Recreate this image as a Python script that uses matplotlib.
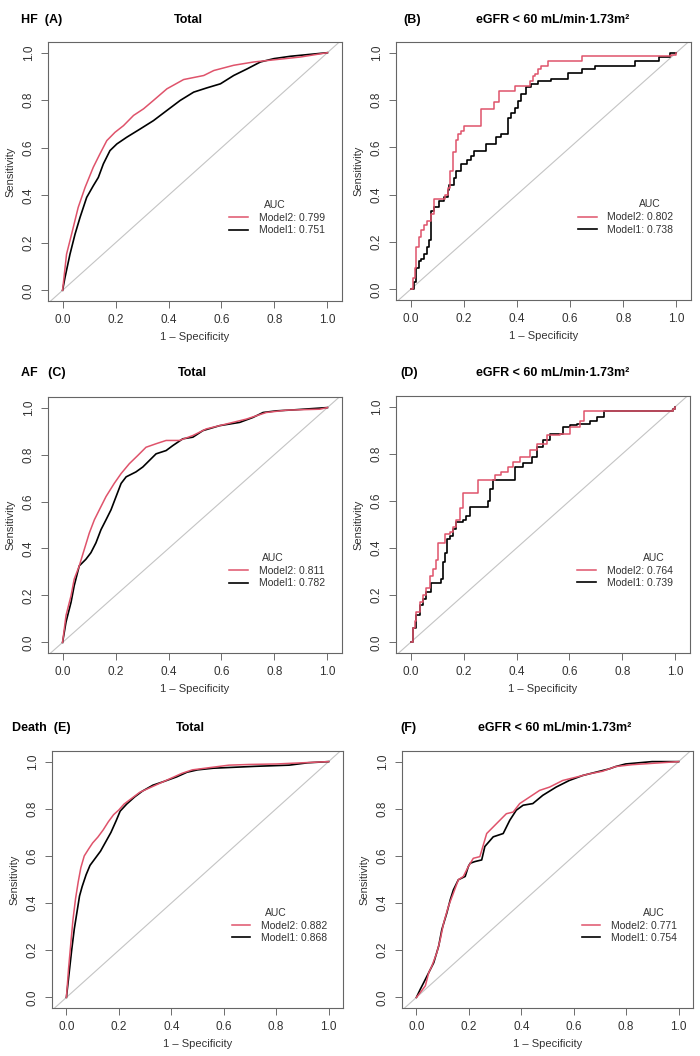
import matplotlib
matplotlib.use("Agg")
import matplotlib.pyplot as plt

plt.rcParams["font.family"] = ["Liberation Sans", "DejaVu Sans"]

RED = "#DF536B"

# ---- ROC curves (1 - specificity, sensitivity) ----
# (A) HF, total
hf_total_m2_x = [0, 0.015, 0.034, 0.059, 0.085, 0.116, 0.141, 0.167, 0.198, 0.23, 0.268, 0.306, 0.343,
                 0.394, 0.457, 0.533, 0.571, 0.646, 0.722, 0.798, 0.899, 1.0]
hf_total_m2_y = [0, 0.152, 0.236, 0.349, 0.433, 0.518, 0.574, 0.63, 0.665, 0.693, 0.736, 0.764, 0.799,
                 0.848, 0.887, 0.904, 0.925, 0.947, 0.961, 0.97, 0.982, 1.0]
hf_total_m1_x = [0, 0.009, 0.028, 0.047, 0.066, 0.091, 0.116, 0.135, 0.154, 0.179, 0.205, 0.242, 0.293,
                 0.343, 0.394, 0.444, 0.495, 0.545, 0.596, 0.646, 0.697, 0.747, 0.798, 0.861, 1.0]
hf_total_m1_y = [0, 0.053, 0.152, 0.236, 0.307, 0.391, 0.44, 0.475, 0.532, 0.588, 0.616, 0.644, 0.679,
                 0.714, 0.757, 0.799, 0.834, 0.852, 0.869, 0.904, 0.932, 0.961, 0.975, 0.985, 1.0]

# (B) HF, eGFR < 60 (step curves)
hf_egfr_m2_x = [0, 0.01, 0.015, 0.02, 0.03, 0.04, 0.05, 0.063, 0.076, 0.088, 0.13, 0.14, 0.15, 0.16, 0.17,
                0.177, 0.19, 0.202, 0.214, 0.265, 0.315, 0.334, 0.391, 0.448, 0.46, 0.467, 0.479, 0.492,
                0.517, 0.643, 0.98, 1.0]
hf_egfr_m2_y = [0, 0.05, 0.09, 0.18, 0.22, 0.25, 0.27, 0.29, 0.32, 0.38, 0.40, 0.43, 0.50, 0.58, 0.63,
                0.656, 0.67, 0.69, 0.69, 0.76, 0.79, 0.84, 0.86, 0.88, 0.90, 0.91, 0.93, 0.944,
                0.966, 0.986, 0.99, 1.0]
hf_egfr_m1_x = [0, 0.013, 0.019, 0.032, 0.038, 0.05, 0.063, 0.069, 0.076, 0.088, 0.107, 0.126, 0.139,
                0.145, 0.164, 0.17, 0.189, 0.214, 0.227, 0.24, 0.284, 0.322, 0.341, 0.366, 0.378, 0.391,
                0.404, 0.416, 0.435, 0.454, 0.479, 0.53, 0.593, 0.643, 0.694, 0.845, 0.933, 0.977, 1.0]
hf_egfr_m1_y = [0, 0.03, 0.09, 0.12, 0.13, 0.15, 0.18, 0.21, 0.33, 0.35, 0.375, 0.39, 0.42,
                0.44, 0.47, 0.50, 0.53, 0.545, 0.565, 0.585, 0.614, 0.642, 0.656, 0.726, 0.747, 0.768,
                0.796, 0.824, 0.853, 0.866, 0.881, 0.888, 0.912, 0.93, 0.944, 0.966, 0.98, 1.0, 1.0]

# (C) AF, total
af_total_m2_x = [0, 0.013, 0.032, 0.044, 0.063, 0.082, 0.101, 0.12, 0.139, 0.164, 0.195, 0.221, 0.252,
                 0.284, 0.315, 0.353, 0.391, 0.441, 0.492, 0.542, 0.618, 0.694, 0.769, 0.845, 0.971, 1.0]
af_total_m2_y = [0, 0.115, 0.199, 0.27, 0.326, 0.396, 0.466, 0.522, 0.565, 0.621, 0.677, 0.719, 0.761,
                 0.796, 0.831, 0.846, 0.86, 0.86, 0.881, 0.909, 0.93, 0.951, 0.979, 0.989, 0.993, 1.0]
af_total_m1_x = [0, 0.013, 0.032, 0.044, 0.063, 0.088, 0.107, 0.126, 0.145, 0.164, 0.183, 0.202, 0.221,
                 0.24, 0.277, 0.303, 0.328, 0.353, 0.391, 0.416, 0.454, 0.492, 0.53, 0.593, 0.669, 0.719,
                 0.757, 0.807, 0.87, 1.0]
af_total_m1_y = [0, 0.087, 0.171, 0.242, 0.326, 0.354, 0.382, 0.424, 0.48, 0.522, 0.565, 0.621, 0.677,
                 0.705, 0.726, 0.747, 0.775, 0.803, 0.817, 0.838, 0.867, 0.874, 0.902, 0.923, 0.937, 0.958,
                 0.979, 0.986, 0.99, 1.0]

# (D) AF, eGFR < 60 (step curves)
af_egfr_m2_x = [0, 0.009, 0.015, 0.021, 0.034, 0.047, 0.059, 0.072, 0.085, 0.097, 0.104, 0.13, 0.148,
                0.16, 0.173, 0.186, 0.198, 0.255, 0.318, 0.343, 0.369, 0.388, 0.413, 0.451, 0.476, 0.514,
                0.564, 0.602, 0.64, 0.653, 0.99, 1.0]
af_egfr_m2_y = [0, 0.06, 0.09, 0.13, 0.17, 0.20, 0.23, 0.28, 0.31, 0.35, 0.42, 0.46, 0.47,
                0.49, 0.52, 0.57, 0.633, 0.689, 0.71, 0.724, 0.745, 0.766, 0.787, 0.815, 0.843, 0.878,
                0.885, 0.913, 0.94, 0.98, 0.99, 1.0]
af_egfr_m1_x = [0, 0.009, 0.021, 0.034, 0.047, 0.059, 0.078, 0.116, 0.122, 0.129, 0.138, 0.148, 0.16,
                0.173, 0.198, 0.211, 0.223, 0.293, 0.3, 0.312, 0.394, 0.426, 0.457, 0.476, 0.501, 0.527,
                0.577, 0.602, 0.628, 0.678, 0.703, 0.729, 0.99, 1.0]
af_egfr_m1_y = [0, 0.06, 0.115, 0.157, 0.185, 0.213, 0.25, 0.27, 0.34, 0.38, 0.44, 0.45, 0.48,
                0.51, 0.52, 0.535, 0.575, 0.60, 0.65, 0.69, 0.745, 0.76, 0.787, 0.829, 0.857, 0.885,
                0.913, 0.92, 0.927, 0.941, 0.955, 0.98, 0.99, 1.0]

# (E) Death, total
death_total_m2_x = [0, 0.008, 0.016, 0.025, 0.035, 0.045, 0.055, 0.068, 0.085, 0.1, 0.12, 0.14, 0.16, 0.18,
                    0.2, 0.22, 0.25, 0.28, 0.32, 0.36, 0.4, 0.44, 0.48, 0.55, 0.62, 0.7, 0.8, 0.9, 1.0]
death_total_m2_y = [0, 0.12, 0.22, 0.33, 0.42, 0.49, 0.55, 0.6, 0.63, 0.655, 0.68, 0.71, 0.745, 0.775,
                    0.795, 0.82, 0.845, 0.87, 0.89, 0.91, 0.93, 0.95, 0.965, 0.975, 0.985, 0.988, 0.99,
                    0.995, 1.0]
death_total_m1_x = [0, 0.01, 0.02, 0.03, 0.04, 0.05, 0.06, 0.075, 0.09, 0.11, 0.13, 0.15, 0.17, 0.19,
                    0.205, 0.23, 0.26, 0.29, 0.33, 0.37, 0.42, 0.46, 0.5, 0.56, 0.62, 0.72, 0.85, 0.92, 1.0]
death_total_m1_y = [0, 0.1, 0.2, 0.29, 0.36, 0.43, 0.47, 0.52, 0.56, 0.59, 0.62, 0.66, 0.7, 0.75,
                    0.79, 0.82, 0.85, 0.875, 0.9, 0.915, 0.935, 0.955, 0.965, 0.972, 0.975, 0.98, 0.985,
                    0.995, 1.0]

# (F) Death, eGFR < 60
death_egfr_m2_x = [0, 0.015, 0.034, 0.047, 0.059, 0.078, 0.091, 0.104, 0.122, 0.141, 0.16, 0.179, 0.198,
                   0.217, 0.242, 0.268, 0.293, 0.318, 0.343, 0.369, 0.394, 0.432, 0.47, 0.508, 0.558,
                   0.609, 0.659, 0.71, 0.76, 0.823, 1.0]
death_egfr_m2_y = [0, 0.021, 0.049, 0.105, 0.133, 0.19, 0.246, 0.316, 0.386, 0.442, 0.499, 0.513, 0.555,
                   0.59, 0.597, 0.695, 0.723, 0.751, 0.779, 0.786, 0.822, 0.85, 0.878, 0.892, 0.92,
                   0.934, 0.948, 0.959, 0.979, 0.987, 1.0]
death_egfr_m1_x = [0, 0.015, 0.028, 0.047, 0.066, 0.085, 0.097, 0.116, 0.129, 0.141, 0.16, 0.186, 0.198,
                   0.205, 0.223, 0.249, 0.261, 0.293, 0.331, 0.356, 0.381, 0.407, 0.444, 0.482, 0.533,
                   0.583, 0.634, 0.684, 0.735, 0.76, 0.798, 0.899, 1.0]
death_egfr_m1_y = [0, 0.035, 0.063, 0.105, 0.147, 0.218, 0.288, 0.358, 0.414, 0.456, 0.499, 0.513, 0.555,
                   0.569, 0.576, 0.583, 0.64, 0.681, 0.695, 0.751, 0.794, 0.815, 0.822, 0.857, 0.892,
                   0.92, 0.941, 0.955, 0.969, 0.979, 0.99, 1.0, 1.0]

auc_model2 = ["0.799", "0.802", "0.811", "0.764", "0.882", "0.771"]
auc_model1 = ["0.751", "0.738", "0.782", "0.739", "0.868", "0.754"]
panel_tags = ["HF  (A)", "(B)", "AF   (C)", "(D)", "Death  (E)", "(F)"]
panel_titles = ["Total", "eGFR < 60 mL/min\u00b71.73m\u00b2"] * 3

curves = [
    (hf_total_m2_x, hf_total_m2_y, hf_total_m1_x, hf_total_m1_y, False),
    (hf_egfr_m2_x, hf_egfr_m2_y, hf_egfr_m1_x, hf_egfr_m1_y, True),
    (af_total_m2_x, af_total_m2_y, af_total_m1_x, af_total_m1_y, False),
    (af_egfr_m2_x, af_egfr_m2_y, af_egfr_m1_x, af_egfr_m1_y, True),
    (death_total_m2_x, death_total_m2_y, death_total_m1_x, death_total_m1_y, False),
    (death_egfr_m2_x, death_egfr_m2_y, death_egfr_m1_x, death_egfr_m1_y, False),
]

# layout in pixels: left, top, right, bottom of each plot box
W, H = 700, 1056
boxes = [(48, 42, 342, 301), (396, 42, 691, 300),
         (48, 397, 342, 653), (396, 396, 690, 653),
         (52, 751, 343, 1008), (402, 751, 693, 1008)]
tag_pos = [(21, 20), (403, 20), (21, 373), (400, 373), (12, 728), (400, 728)]
title_pos = [(188, 20), (553, 20), (192, 373), (553, 373), (190, 728), (555, 728)]
auc_title_x = [0.80, 0.90, 0.795, 0.92, 0.80, 0.905]

fig = plt.figure(figsize=(W / 100, H / 100), dpi=100)

for i, (x2, y2, x1, y1, stepped) in enumerate(curves):
    l, t, r, b = boxes[i]
    ax = fig.add_axes([l / W, 1 - b / H, (r - l) / W, (b - t) / H])
    ax.plot([-0.2, 1.2], [-0.2, 1.2], color="#c4c4c4", lw=0.8, zorder=1)
    ds = "steps-post" if stepped else "default"
    l1, = ax.plot(x1, y1, color="black", lw=1.2, drawstyle=ds, zorder=2)
    l2, = ax.plot(x2, y2, color=RED, lw=1.1, drawstyle=ds, zorder=3)
    ax.set_xlim(-0.055, 1.055)
    ax.set_ylim(-0.045, 1.045)
    ticks = [0, 0.2, 0.4, 0.6, 0.8, 1.0]
    ax.set_xticks(ticks)
    ax.set_yticks(ticks)
    ax.set_xticklabels(["%.1f" % v for v in ticks])
    ax.set_yticklabels(["%.1f" % v for v in ticks], rotation=90, va="center")
    ax.tick_params(direction="out", length=5, width=0.6, color="#555555",
                   labelsize=8.5, labelcolor="#333333", pad=4.5)
    for s in ax.spines.values():
        s.set_color("#666666")
        s.set_linewidth(0.8)
    ax.set_xlabel("1 \u2013 Specificity", fontsize=8, color="#333333", labelpad=4)
    ax.set_ylabel("Sensitivity", fontsize=8, color="#333333", labelpad=5)

    ax.text(auc_title_x[i], 0.36, "AUC", fontsize=7.5, color="#333333",
            ha="center", va="center")
    ax.legend([l2, l1], ["Model2: " + auc_model2[i], "Model1: " + auc_model1[i]],
              loc="upper left", bbox_to_anchor=(0.63, 0.325), bbox_transform=ax.transData,
              frameon=False, prop={"size": 7.5}, handlelength=1.8, handletextpad=1.0,
              labelspacing=0.2, borderpad=0, borderaxespad=0, labelcolor="#333333")

    fig.text(tag_pos[i][0] / W, 1 - tag_pos[i][1] / H, panel_tags[i], fontsize=9,
             fontweight="bold", ha="left", va="center")
    fig.text(title_pos[i][0] / W, 1 - title_pos[i][1] / H, panel_titles[i], fontsize=9,
             fontweight="bold", ha="center", va="center")

fig.savefig("out.png", dpi=100)
